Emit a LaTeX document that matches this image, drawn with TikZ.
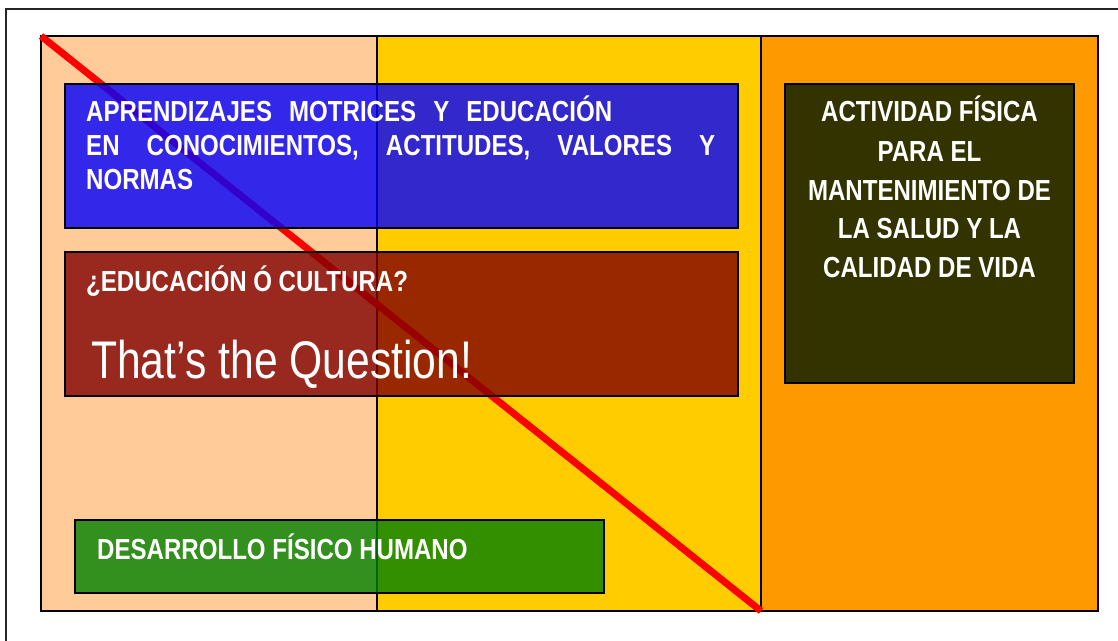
\documentclass[tikz,border=0pt]{standalone}
\usepackage{fontspec}
\setmainfont[FakeStretch=0.83]{Liberation Sans}
\newfontfamily\bigfont[FakeStretch=0.805]{Liberation Sans}
\definecolor{peach}{HTML}{FFCC99}
\definecolor{gold}{HTML}{FFCC00}
\definecolor{orng}{HTML}{FF9900}
\definecolor{olive}{HTML}{333300}
\definecolor{bluebox}{HTML}{0000FF}
\definecolor{redbox}{HTML}{800000}
\definecolor{greenbox}{HTML}{008000}
\tikzset{
  panel/.style={draw=black, line width=1.5pt, rectangle, inner sep=0pt, outer sep=0pt, anchor=north west},
  tbox/.style={draw=black, line width=1.5pt, rectangle, inner sep=0pt, outer sep=0pt, anchor=north west, fill opacity=0.8},
  btxt/.style={text=white, inner sep=0pt, font=\fontsize{29}{34}\selectfont\bfseries},
  bigtxt/.style={text=white, inner sep=0pt, font=\bigfont\fontsize{53}{60}\selectfont},
}
\begin{document}
\begin{tikzpicture}[x=1pt,y=-1pt]
\useasboundingbox (0,0) rectangle (1118,640);
\fill[white] (0,0) rectangle (1118,640);
% outer frame (cut by page edge)
\draw[line width=1.6pt, black!85] (6,660) -- (6,9) -- (1130,9);
% panels
\node[panel, fill=peach, minimum width=336pt, minimum height=575pt] (pl) at (41,36) {};
\node[panel, fill=gold, minimum width=384pt, minimum height=575pt] (pm) at (377,36) {};
\node[panel, fill=orng, minimum width=337pt, minimum height=575pt] (pr) at (761,36) {};
% red diagonal
\draw[red, line width=7pt] (pl.north west) -- (pm.south east);
% boxes
\node[tbox, fill=bluebox, minimum width=673pt, minimum height=144pt] (blue) at (65,84) {};
\node[tbox, fill=redbox, minimum width=673pt, minimum height=144pt] (rbox) at (65,252) {};
\node[tbox, fill=greenbox, minimum width=529pt, minimum height=73pt] (gbox) at (75,520) {};
\node[panel, fill=olive, minimum width=289pt, minimum height=299pt] (dark) at (785,84) {};
% blue box text
\node[btxt, anchor=base west] (b1) at (86,121.7) {\makebox[526pt][s]{APRENDIZAJES MOTRICES Y EDUCACIÓN}};
\node[btxt, anchor=base west] (b2) at (86,155) {\makebox[629pt][s]{EN CONOCIMIENTOS, ACTITUDES, VALORES Y}};
\node[btxt, anchor=base west] (b3) at (86,189.3) {NORMAS};
% red box text
\node[btxt, anchor=base west] (r1) at (86,291.7) {¿EDUCACIÓN Ó CULTURA?};
\node[bigtxt, anchor=base west] (r2) at (91,378) {That’s the Question!};
% green box text
\node[btxt, anchor=base west] (g1) at (97,559.3) {DESARROLLO FÍSICO HUMANO};
% dark box text
\node[btxt, anchor=base] (d1) at (929.5,121.7) {ACTIVIDAD FÍSICA};
\node[btxt, anchor=base] (d2) at (929.5,161) {PARA EL};
\node[btxt, anchor=base] (d3) at (929.5,200) {MANTENIMIENTO DE};
\node[btxt, anchor=base] (d4) at (929.5,238.5) {LA SALUD Y LA};
\node[btxt, anchor=base] (d5) at (929.5,277) {CALIDAD DE VIDA};
\end{tikzpicture}
\end{document}
